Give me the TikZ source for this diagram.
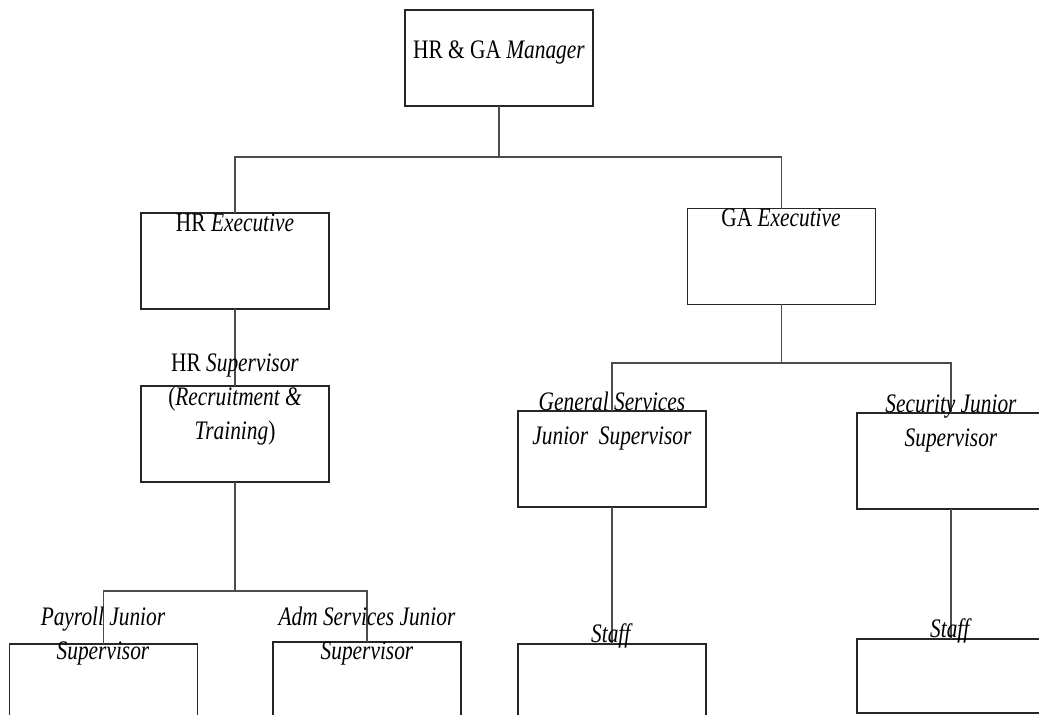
\documentclass[tikz,border=0pt]{standalone}
\usepackage{fontspec}
\setmainfont{Liberation Serif}[FakeStretch=0.8]
\begin{document}
\begin{tikzpicture}[x=0.02cm, y=-0.02cm,
    box/.style={draw=black!85, line width=0.6pt, rectangle, minimum width=3.76cm, minimum height=1.92cm, inner sep=0pt, outer sep=0pt},
    lbl/.style={anchor=base, inner sep=0pt, align=center, font=\fontsize{15.2}{19.4}\selectfont},
    link/.style={draw=black!70, line width=0.6pt}]
    \useasboundingbox (0,0) rectangle (1039,715);
    \clip (0,0) rectangle (1039,715);

    % boxes
    \node[box] (mgr) at (499,58) {};
    \node[box] (hrexe) at (235,261) {};
    \node[box] (gaexe) at (781.5,256.5) {};
    \node[box] (hrsup) at (235,434) {};
    \node[box] (gssup) at (612,459) {};
    \node[box] (secsup) at (951,461) {};
    \node[box] (payroll) at (103.5,692) {};
    \node[box] (adm) at (367,690) {};
    \node[box] (gsstaff) at (612,692) {};
    \node[box, minimum height=1.48cm] (secstaff) at (951,676) {};

    % connectors
    \coordinate (bus1) at (499,157);
    \coordinate (bus2) at (235,591);
    \coordinate (bus3) at (781.5,363);
    \draw[link] (mgr.south) -- (bus1);
    \draw[link] (hrexe.north) |- (bus1) -| (gaexe.north);
    \draw[link] (hrexe.south) -- (hrsup.north);
    \draw[link] (hrsup.south) -- (bus2);
    \draw[link] (payroll.north) |- (bus2) -| (adm.north);
    \draw[link] (gaexe.south) -- (bus3);
    \draw[link] (gssup.north) |- (bus3) -| (secsup.north);
    \draw[link] (gssup.south) -- (gsstaff.north);
    \draw[link] (secsup.south) -- (secstaff.north);

    % labels (multi-line ones sit on their last baseline)
    \node[lbl] (mgrtxt) at (499,59) {HR \& GA \textit{Manager}};
    \node[lbl] (hrexetxt) at (235,232) {HR \textit{Executive}};
    \node[lbl] (gaexetxt) at (781,227) {GA \textit{Executive}};
    \node[lbl] (hrsuptxt) at (235,440) {HR \textit{Supervisor}\\(\textit{Recruitment \&}\\\textit{Training})};
    \node[lbl] (gssuptxt) at (612,445) {\textit{General Services}\\\textit{Junior\ \ Supervisor}};
    \node[lbl] (secsuptxt) at (951,447) {\textit{Security Junior}\\\textit{Supervisor}};
    \node[lbl] (payrolltxt) at (103,660) {\textit{Payroll Junior}\\\textit{Supervisor}};
    \node[lbl] (admtxt) at (367,660) {\textit{Adm Services Junior}\\\textit{Supervisor}};
    \node[lbl] (gsstafftxt) at (612,643) {\textit{Staff}};
    \node[lbl] (secstafftxt) at (951,638) {\textit{Staff}};
\end{tikzpicture}
\end{document}
